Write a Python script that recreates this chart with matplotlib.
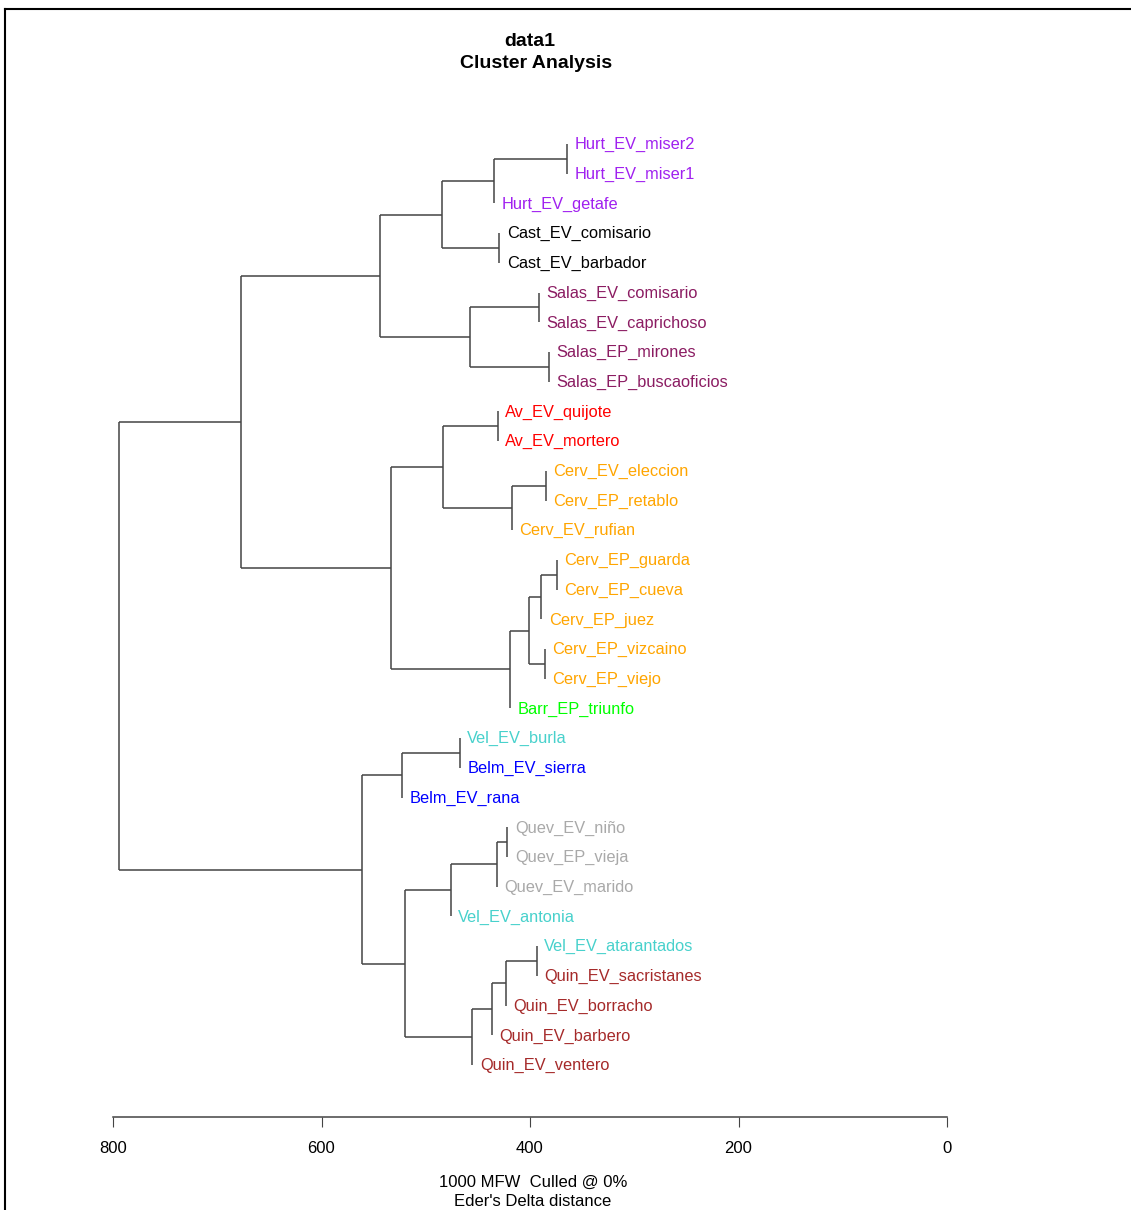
import matplotlib
matplotlib.use("Agg")
import matplotlib.pyplot as plt
from matplotlib.lines import Line2D

plt.rcParams["font.family"] = ["Liberation Sans", "DejaVu Sans"]

# leaves, top to bottom
leaves = [
    "Hurt_EV_miser2", "Hurt_EV_miser1", "Hurt_EV_getafe",
    "Cast_EV_comisario", "Cast_EV_barbador",
    "Salas_EV_comisario", "Salas_EV_caprichoso", "Salas_EP_mirones", "Salas_EP_buscaoficios",
    "Av_EV_quijote", "Av_EV_mortero",
    "Cerv_EV_eleccion", "Cerv_EP_retablo", "Cerv_EV_rufian",
    "Cerv_EP_guarda", "Cerv_EP_cueva", "Cerv_EP_juez", "Cerv_EP_vizcaino", "Cerv_EP_viejo",
    "Barr_EP_triunfo",
    "Vel_EV_burla", "Belm_EV_sierra", "Belm_EV_rana",
    "Quev_EV_niño", "Quev_EP_vieja", "Quev_EV_marido", "Vel_EV_antonia",
    "Vel_EV_atarantados", "Quin_EV_sacristanes", "Quin_EV_borracho",
    "Quin_EV_barbero", "Quin_EV_ventero",
]

author_colors = {
    "Av": "#FF0000", "Barr": "#00FF00", "Belm": "#0000FF", "Cast": "#000000",
    "Cerv": "#FFA500", "Hurt": "#A020F0", "Quev": "#A9A9A9", "Quin": "#A52A2A",
    "Salas": "#8B1C62", "Vel": "#48D1CC",
}

# merges: (left child, right child, height)
merge_left = ["Hurt_EV_miser2", "n1", "Cast_EV_comisario", "n2", "Salas_EV_comisario",
              "Salas_EP_mirones", "n5", "n4", "Av_EV_quijote", "Cerv_EV_eleccion",
              "n10", "n9", "Cerv_EP_guarda", "n13", "Cerv_EP_vizcaino", "n14", "n16",
              "n12", "n8", "Vel_EV_burla", "n20", "Quev_EV_niño", "n22", "n23",
              "Vel_EV_atarantados", "n25", "n26", "n27", "n24", "n21", "n19"]
merge_right = ["Hurt_EV_miser1", "Hurt_EV_getafe", "Cast_EV_barbador", "n3",
               "Salas_EV_caprichoso", "Salas_EP_buscaoficios", "n6", "n7", "Av_EV_mortero",
               "Cerv_EP_retablo", "Cerv_EV_rufian", "n11", "Cerv_EP_cueva", "Cerv_EP_juez",
               "Cerv_EP_viejo", "n15", "Barr_EP_triunfo", "n17", "n18", "Belm_EV_sierra",
               "Belm_EV_rana", "Quev_EP_vieja", "Quev_EV_marido", "Vel_EV_antonia",
               "Quin_EV_sacristanes", "Quin_EV_borracho", "Quin_EV_barbero",
               "Quin_EV_ventero", "n28", "n29", "n30"]
merge_height = [364.5, 434.1, 429.3, 484.2, 391.7, 382.0, 457.1, 543.9, 430.9, 384.8,
                417.5, 483.1, 374.3, 389.4, 386.0, 401.0, 419.4, 533.1, 677.2, 467.5,
                522.6, 421.8, 431.7, 476.2, 393.5, 423.2, 436.9, 455.2, 519.9, 561.4, 793.9]

ticks = [800, 600, 400, 200, 0]

W, H = 1131, 1210
fig = plt.figure(figsize=(W / 100, H / 100), dpi=100)

# frame of the screenshot
fig.add_artist(Line2D([5 / W, 1], [1 - 9 / H, 1 - 9 / H], color="black", lw=1.5))
fig.add_artist(Line2D([5 / W, 5 / W], [0, 1 - 9 / H], color="black", lw=1.5))

ax = fig.add_axes([113 / W, 1 - 1117 / H, (947 - 113) / W, (1117 - 144) / H])
ax.set_xlim(800, 0)
ax.set_ylim(32.75, 0)

ypos = {name: i for i, name in enumerate(leaves)}
xpos = {}
line_kw = dict(color="#444444", lw=1.1, solid_capstyle="butt")

for k, (a, b, h) in enumerate(zip(merge_left, merge_right, merge_height)):
    node = "n%d" % (k + 1)
    for c in (a, b):
        if c not in xpos:
            xpos[c] = h  # tips sit at their parent's height
    ax.plot([h, h], [ypos[a], ypos[b]], **line_kw)
    for c in (a, b):
        if xpos[c] != h:
            ax.plot([h, xpos[c]], [ypos[c], ypos[c]], **line_kw)
    ypos[node] = (ypos[a] + ypos[b]) / 2
    xpos[node] = h

for name in leaves:
    ax.annotate(name, (xpos[name], ypos[name]), xytext=(5.5, -0.5), textcoords="offset points",
                va="center", ha="left", fontsize=11.8,
                color=author_colors[name.split("_")[0]], annotation_clip=False)

for s in ("top", "right", "left"):
    ax.spines[s].set_visible(False)
ax.spines["bottom"].set_bounds(800, 0)
ax.spines["bottom"].set_color("#444444")
ax.spines["bottom"].set_linewidth(1.1)
ax.set_xticks(ticks)
ax.set_xticklabels([str(t) for t in ticks])
ax.tick_params(axis="x", length=7.2, width=0.8, color="#444444", pad=10, labelsize=12)
ax.set_yticks([])
ax.patch.set_visible(False)

fig.text(530 / W, 1 - 41 / H, "data1", ha="center", va="center",
         fontsize=14, fontweight="bold")
fig.text(536 / W, 1 - 64 / H, "Cluster Analysis", ha="center", va="center",
         fontsize=14, fontweight="bold")
fig.text(533 / W, 1 - 1182 / H, "1000 MFW  Culled @ 0%", ha="center", va="center", fontsize=12)
fig.text(533 / W, 1 - 1209.5 / H, "Eder's Delta distance", ha="center", va="bottom", fontsize=12)

fig.savefig("out.png", dpi=100)
